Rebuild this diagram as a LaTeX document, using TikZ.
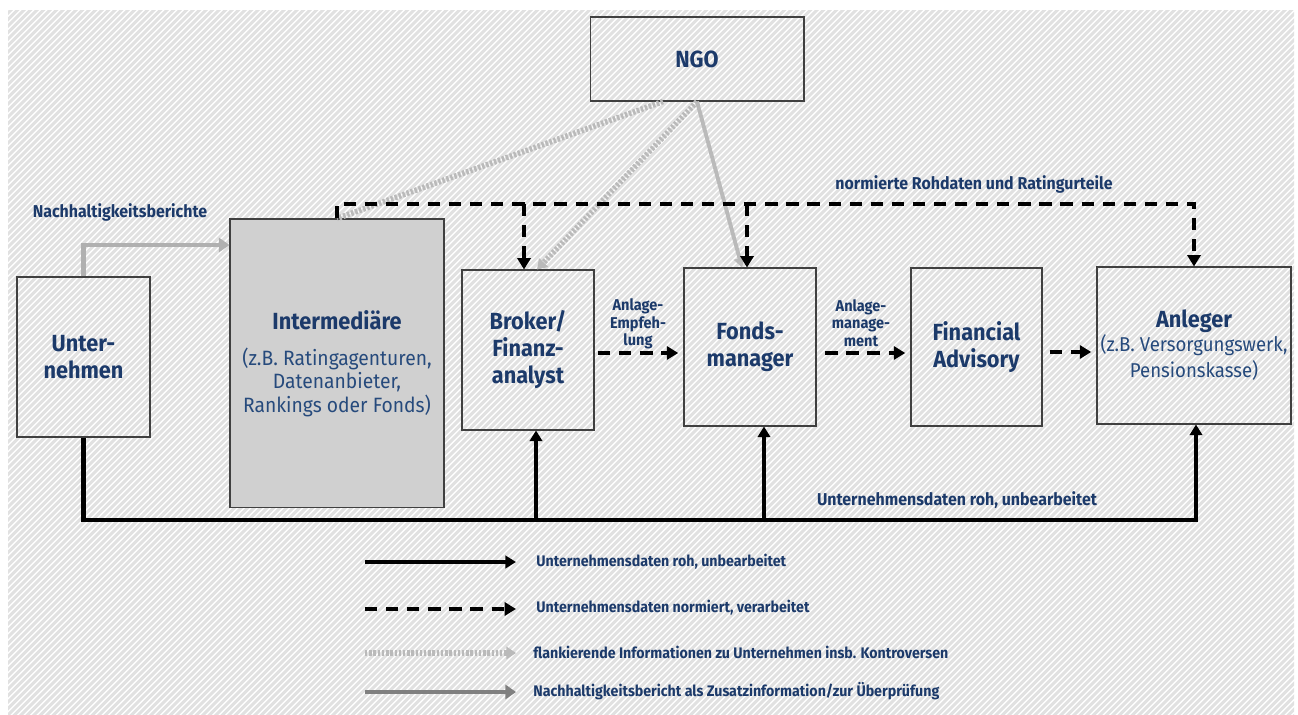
\documentclass[tikz,border=0pt]{standalone}
\usepackage{fontspec}
\setmainfont{Fira Sans}[FakeStretch=0.93]
\usetikzlibrary{arrows.meta}

\definecolor{txtblau}{RGB}{28,58,106}
\definecolor{txthell}{RGB}{38,74,124}
\definecolor{schraffur}{RGB}{225,225,225}
\definecolor{kastengrau}{RGB}{208,208,208}
\definecolor{nhgrau}{RGB}{176,176,176}
\definecolor{legendgrau}{RGB}{128,128,128}
\definecolor{infograu}{RGB}{186,186,186}

\newcommand{\zusatz}[2]{{\mdseries\color{txthell}\fontsize{#1}{#1}\selectfont #2}}

\tikzset{
  kastenbox/.style={draw=black!75, line width=0.6pt, align=center, text=txtblau,
    font=\bfseries\fontsize{13.3}{15.4}\selectfont, inner sep=2pt},
  kleintext/.style={text=txtblau, font=\bfseries\fontsize{9.75}{11}\selectfont, inner sep=0pt},
  anlagetext/.style={text=txtblau, align=center, font=\bfseries\fontsize{8.9}{10}\selectfont, inner sep=0pt},
  legendtext/.style={text=txtblau, anchor=west, font=\bfseries\fontsize{8.7}{10}\selectfont, inner sep=0pt},
  schraffurlinie/.style={schraffur, line width=1.7pt},
  roh/.style={line width=2.4pt, black, -{Triangle[width=7pt,length=6pt]}},
  normiert/.style={line width=2.8pt, black, dash pattern=on 7pt off 5pt, -{Triangle[width=7.5pt,length=6.5pt]}},
  nhbericht/.style={line width=2.8pt, nhgrau, -{Triangle[width=8pt,length=6pt]}},
  flankierend/.style={line width=3.2pt, infograu, dash pattern=on 1.4pt off 1pt},
  ngolinie/.style={line width=2.2pt, infograu, -{Triangle[width=6.5pt,length=5.5pt]}}
}

\begin{document}
\begin{tikzpicture}[x=0.02cm,y=-0.02cm]
  \useasboundingbox (0,0) rectangle (1298,715);

  % Hintergrund
  \begin{scope}
    \clip (8,11) rectangle (1294,715);
    \foreach \k in {0,...,310}
      \draw[schraffurlinie] ({\k*6.5-712},720) -- ++(725,-725);
  \end{scope}

  % Kaesten
  \node[kastenbox, minimum width=2.66cm, minimum height=3.2cm] (unt) at (83.5,357) {Unter-\\nehmen};
  \node[kastenbox, fill=kastengrau, minimum width=4.28cm, minimum height=5.78cm] (inter) at (337,363.5)
    {Intermediäre\\[5.1pt]\zusatz{11.8}{(z.B. Ratingagenturen,}\\[-2pt]\zusatz{11.8}{Datenanbieter,}\\[-2pt]\zusatz{11.8}{Rankings oder Fonds)}};
  \node[kastenbox, minimum width=2.64cm, minimum height=3.2cm] (broker) at (528,350) {Broker/\\Finanz-\\analyst};
  \node[kastenbox, minimum width=2.64cm, minimum height=3.16cm] (fonds) at (750,347) {Fonds-\\manager};
  \node[kastenbox, minimum width=2.62cm, minimum height=3.16cm] (fa) at (976.5,347) {Financial\\Advisory};
  \node[kastenbox, minimum width=3.88cm, minimum height=3.14cm] (anl) at (1194,345.5)
    {Anleger\\[-1.7pt]\zusatz{11.4}{(z.B. Versorgungswerk,}\\[-0.6pt]\zusatz{11.4}{Pensionskasse)}};
  \node[kastenbox, minimum width=4.28cm, minimum height=1.68cm] (ngo) at (697,59) {NGO};

  % Hilfspunkte
  \coordinate (oben) at (0,204);
  \coordinate (unten) at (0,520);
  \coordinate (nhb) at (0,245);

  % NGO-Informationen
  \draw[flankierend] ([xshift=-0.68cm]ngo.south) -- (inter.north);
  \draw[flankierend, -{Triangle[width=7pt,length=5.5pt]}] (ngo.south) -- ([xshift=0.18cm]broker.north);
  \draw[ngolinie] (ngo.south) -- ([xshift=-0.16cm]fonds.north);

  % Nachhaltigkeitsberichte
  \draw[nhbericht] (unt.north) |- (inter.west |- nhb);
  \node[kleintext] (nhblabel) at (120,212) {Nachhaltigkeitsberichte};

  % normierte Daten
  \draw[normiert] (inter.north) -- (inter.north |- oben) -| (anl.north);
  \draw[normiert] ([xshift=-0.08cm]broker.north |- oben) -- ([xshift=-0.08cm]broker.north);
  \draw[normiert] ([xshift=-0.06cm]fonds.north |- oben) -- ([xshift=-0.06cm]fonds.north);
  \node[kleintext] (normlabel) at (974,184) {normierte Rohdaten und Ratingurteile};

  \draw[normiert, shorten <=2pt, shorten >=3pt] ([yshift=-0.06cm]broker.east) -- ([yshift=-0.06cm]broker.east -| fonds.west);
  \draw[normiert, shorten <=5pt, shorten >=3pt] ([yshift=-0.12cm]fonds.east) -- ([yshift=-0.12cm]fonds.east -| fa.west);
  \draw[normiert, shorten <=4pt, shorten >=3pt] ([yshift=-0.1cm]fa.east) -- ([yshift=-0.1cm]fa.east -| anl.west);
  \node[anlagetext] (empf) at (638,324) {Anlage-\\Empfeh-\\lung};
  \node[anlagetext] (mgmt) at (861,323) {Anlage-\\manage-\\ment};

  % Rohdaten
  \draw[roh] (unt.south) -- (unt.south |- unten) -| ([xshift=0.04cm]anl.south);
  \draw[roh] ([xshift=0.16cm]broker.south |- unten) -- ([xshift=0.16cm]broker.south);
  \draw[roh] ([xshift=0.28cm]fonds.south |- unten) -- ([xshift=0.28cm]fonds.south);
  \node[kleintext] (rohlabel) at (957,500) {Unternehmensdaten roh, unbearbeitet};

  % Legende
  \coordinate (l1) at (365,562);
  \coordinate (l2) at (365,609);
  \coordinate (l3) at (365,653);
  \coordinate (l4) at (365,692);
  \node[legendtext] (t1) at (536,562) {Unternehmensdaten roh, unbearbeitet};
  \node[legendtext] (t2) at (536,608) {Unternehmensdaten normiert, verarbeitet};
  \node[legendtext] (t3) at (533,652) {flankierende Informationen zu Unternehmen insb. Kontroversen};
  \node[legendtext] (t4) at (533,691) {Nachhaltigkeitsbericht als Zusatzinformation/zur Überprüfung};
  \draw[roh, shorten >=0.4cm] (l1) -- (l1 -| t1.west);
  \draw[normiert, shorten >=0.4cm] (l2) -- (l2 -| t2.west);
  \draw[flankierend, -{Triangle[width=7pt,length=5.5pt]}, shorten >=0.34cm] (l3) -- (l3 -| t3.west);
  \draw[nhbericht, legendgrau, shorten >=0.34cm] (l4) -- (l4 -| t4.west);
\end{tikzpicture}
\end{document}
